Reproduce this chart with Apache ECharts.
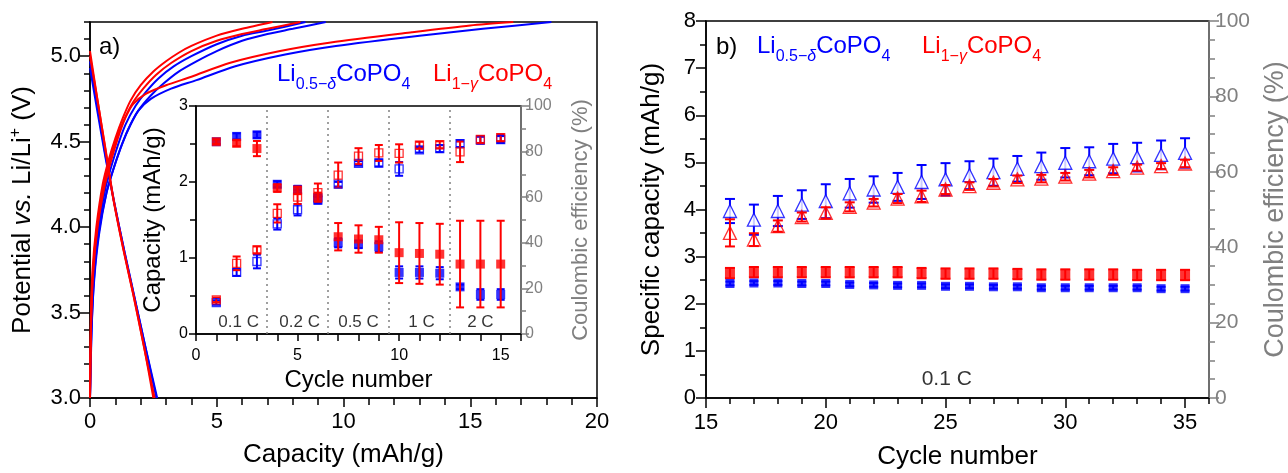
<!DOCTYPE html>
<html><head><meta charset="utf-8">
<script src="https://cdn.jsdelivr.net/npm/echarts@6/dist/echarts.min.js"></script>
<style>html,body{margin:0;padding:0;background:#fff}#c{width:1288px;height:473px}</style>
</head><body><div id="c"></div>
<script>
// ---------- Panel a: voltage profiles [capacity mAh/g, potential V] ----------
const redDischarge1 = [[0,5.03],[0.3,4.74],[0.6,4.46],[0.9,4.18],[1.3,3.88],[1.7,3.61],[2.1,3.32],[2.55,3.0]];
const redDischarge2 = [[0,5.0],[0.32,4.72],[0.62,4.45],[0.92,4.17],[1.32,3.87],[1.72,3.6],[2.12,3.31],[2.5,3.0]];
const blueDischarge1 = [[0,4.97],[0.3,4.7],[0.6,4.43],[0.95,4.15],[1.35,3.86],[1.75,3.59],[2.2,3.29],[2.65,3.0]];
const blueDischarge2 = [[0,4.93],[0.3,4.67],[0.62,4.4],[0.97,4.13],[1.37,3.85],[1.77,3.58],[2.21,3.28],[2.62,3.0]];
const redChargeFast1 = [[0,3.0],[0.03,3.45],[0.1,3.75],[0.25,4.0],[0.5,4.25],[0.75,4.4],[1.0,4.52],[1.3,4.64],[1.6,4.74],[2.0,4.83],[2.5,4.91],[3.0,4.97],[3.5,5.02],[4.0,5.06],[5.0,5.12],[6.0,5.16],[7.2,5.2]];
const redChargeFast2 = [[0,3.0],[0.04,3.45],[0.12,3.75],[0.28,4.0],[0.55,4.25],[0.8,4.4],[1.05,4.52],[1.35,4.63],[1.7,4.73],[2.1,4.81],[2.6,4.89],[3.2,4.96],[4.0,5.03],[5.0,5.09],[6.0,5.13],[7.0,5.16],[8.3,5.2]];
const blueChargeFast1 = [[0,3.0],[0.05,3.4],[0.15,3.72],[0.32,3.98],[0.6,4.22],[0.85,4.36],[1.1,4.48],[1.4,4.6],[1.8,4.71],[2.2,4.79],[2.7,4.87],[3.3,4.94],[4.0,5.0],[5.0,5.07],[6.0,5.12],[7.0,5.15],[8.5,5.2]];
const blueChargeFast2 = [[0,3.0],[0.06,3.4],[0.17,3.7],[0.36,3.96],[0.65,4.2],[0.9,4.33],[1.2,4.46],[1.5,4.57],[1.9,4.68],[2.4,4.77],[2.9,4.84],[3.5,4.91],[4.2,4.97],[5.0,5.03],[6.0,5.09],[7.0,5.13],[8.0,5.16],[9.3,5.2]];
const redChargeSlow = [[0,3.0],[0.04,3.4],[0.12,3.72],[0.3,4.0],[0.55,4.22],[0.8,4.37],[1.1,4.52],[1.4,4.64],[1.7,4.72],[2.2,4.78],[3.0,4.83],[4.0,4.88],[5.5,4.96],[7.5,5.03],[9.5,5.08],[12.7,5.14],[15,5.18],[16.7,5.2]];
const blueChargeSlow = [[0,3.0],[0.06,3.38],[0.16,3.7],[0.35,3.97],[0.65,4.2],[0.95,4.35],[1.25,4.48],[1.6,4.6],[1.9,4.68],[2.4,4.75],[3.2,4.81],[4.2,4.86],[5.7,4.94],[7.7,5.01],[9.7,5.06],[13,5.12],[15.5,5.16],[18.2,5.2]];

// ---------- Inset: rate test (cycles 1-15) ----------
const insetCycles = [1,2,3,4,5,6,7,8,9,10,11,12,13,14,15];
const insetBlueCap = [2.53,2.60,2.62,1.97,1.90,1.79,1.20,1.18,1.15,0.81,0.81,0.80,0.62,0.52,0.52];
const insetBlueCapErr = [0.03,0.04,0.04,0.04,0.05,0.05,0.06,0.05,0.07,0.08,0.08,0.08,0.03,0.07,0.07];
const insetRedCap = [2.53,2.51,2.44,1.92,1.89,1.80,1.28,1.25,1.24,1.07,1.06,1.05,0.92,0.92,0.92];
const insetRedCapErr = [0.03,0.04,0.10,0.05,0.05,0.06,0.18,0.18,0.17,0.40,0.40,0.40,0.57,0.57,0.57];
const insetBlueCE = [13.8,27,31.8,48.3,54.5,58.7,65.7,74.8,75,72.4,80.8,81.3,83.5,85,85.3];
const insetBlueCEErr = [1,1.5,3,2.5,2.5,1.5,1,1,1.5,3,1.2,1.5,1.5,1.5,1.5];
const insetRedCE = [15,31,36.9,52.9,60,62,69.7,78,79.4,79.2,82.8,83,79.9,85.3,86.1];
const insetRedCEErr = [1,3,1.5,4,3,4,5.5,3.5,3.5,4,1.5,1.5,4.5,1.5,1.5];
const rateLabels = ['0.1 C','0.2 C','0.5 C','1 C','2 C'];
const rateLabelCycles = [2.1,5.1,8.0,11.1,14.0];
const rateBoundaries = [3.5,6.5,9.5,12.5];

// ---------- Panel b: cycling at 0.1 C (cycles 16-35) ----------
const cyclesB = [16,17,18,19,20,21,22,23,24,25,26,27,28,29,30,31,32,33,34,35];
const blueCapB = [2.43,2.44,2.44,2.43,2.43,2.41,2.40,2.39,2.39,2.37,2.37,2.36,2.36,2.34,2.34,2.34,2.34,2.34,2.32,2.32];
const blueCapBErr = [0.04,0.04,0.04,0.04,0.04,0.04,0.04,0.04,0.04,0.04,0.04,0.04,0.04,0.04,0.04,0.04,0.04,0.04,0.04,0.04];
const redCapB = [2.65,2.67,2.67,2.67,2.67,2.67,2.67,2.67,2.65,2.64,2.64,2.64,2.63,2.62,2.62,2.62,2.62,2.61,2.61,2.61];
const redCapBErr = [0.11,0.11,0.11,0.11,0.11,0.11,0.11,0.11,0.11,0.11,0.11,0.11,0.11,0.11,0.11,0.11,0.11,0.11,0.11,0.11];
const blueCEB = [49.6,47.3,49.6,51.3,52.2,54.3,55.3,56,57.3,58,59.1,59.9,60.8,61.5,62.4,62.8,63.5,63.9,64.5,65.0];
const blueCEBErr = [3.2,4.0,4.0,3.8,4.5,3.8,3.5,3.7,4.5,4.3,3.7,3.6,3.4,3.6,3.9,3.7,3.9,3.8,3.8,3.9];
const redCEB = [43.8,42,45.6,48,49.1,50.7,51.8,52.9,53.5,55.3,56.2,57.1,58,58.2,58.7,59.5,60.2,61.1,61.5,62.2];
const redCEBErr = [3.6,1.7,1.5,1.2,1.5,1.2,1.0,1.2,1.5,1.2,1.0,1.0,1.0,1.0,1.0,1.0,1.0,0.8,0.8,1.0];

const BLUE = '#0000ff', RED = '#ff0000', GREY = '#808080';
const FF = 'Liberation Sans, Arial, sans-serif';

function zip(xs, ys, es) { return xs.map((x, i) => es ? [x, ys[i], es[i]] : [x, ys[i]]); }

function errRender(capW) {
  return function (params, api) {
    const x = api.value(0), y = api.value(1), e = api.value(2);
    const pt = api.coord([x, y + e]), pb = api.coord([x, y - e]);
    const style = { stroke: api.visual('color'), lineWidth: 2 };
    return { type: 'group', children: [
      { type: 'line', shape: { x1: pt[0], y1: pt[1], x2: pb[0], y2: pb[1] }, style },
      { type: 'line', shape: { x1: pt[0] - capW / 2, y1: pt[1], x2: pt[0] + capW / 2, y2: pt[1] }, style },
      { type: 'line', shape: { x1: pb[0] - capW / 2, y1: pb[1], x2: pb[0] + capW / 2, y2: pb[1] }, style }
    ]};
  };
}
function errSeries(xi, yi, data, color, capW, z) {
  return { type: 'custom', xAxisIndex: xi, yAxisIndex: yi, data, renderItem: errRender(capW),
    encode: { x: 0, y: 1 }, itemStyle: { color }, z: z || 2, silent: true, clip: false };
}
function markSeries(xi, yi, data, color, symbol, size, open, z, fill) {
  return { type: 'scatter', xAxisIndex: xi, yAxisIndex: yi, data: data.map(d => [d[0], d[1]]),
    symbol, symbolSize: size, z: z || 3, silent: true,
    itemStyle: open ? { color: fill || 'rgba(255,255,255,0)', borderColor: color, borderWidth: 1.3 } : { color } };
}
function lineSeries(data, color) {
  return { type: 'line', xAxisIndex: 0, yAxisIndex: 0, data, showSymbol: false, smooth: 0.25,
    lineStyle: { color, width: 2 }, silent: true, z: 2 };
}

const lbl = (size, color) => ({ fontSize: size, fontFamily: FF, color: color || '#000' });
const legendRich = (color) => ({
  m: { fontSize: 24, fontFamily: FF, fill: color, color },
  s: { fontSize: 16, fontFamily: FF, fill: color, color, padding: [21, 0, 0, 0] },
  si: { fontSize: 16, fontFamily: FF, fill: color, color, fontStyle: 'italic', padding: [21, 0, 0, 0] }
});

const option = {
  animation: false,
  backgroundColor: '#fff',
  grid: [
    { left: 90, top: 22, width: 507, height: 376, show: true, borderColor: '#000', borderWidth: 1.5, backgroundColor: '#fff', outerBoundsMode: 'none' },
    { left: 196, top: 106, width: 325, height: 228, show: true, borderColor: '#000', borderWidth: 1.5, backgroundColor: '#fff', outerBoundsMode: 'none' },
    { left: 706, top: 21, width: 503, height: 377, show: true, borderColor: '#000', borderWidth: 1.5, backgroundColor: '#fff', outerBoundsMode: 'none' }
  ],
  xAxis: [
    { gridIndex: 0, type: 'value', min: 0, max: 20, interval: 5, splitLine: { show: false },
      axisLine: { lineStyle: { color: '#000', width: 1.5 } },
      axisTick: { length: 9, lineStyle: { color: '#000', width: 1.5 } },
      minorTick: { show: true, splitNumber: 5, length: 7, lineStyle: { color: '#000', width: 1.5 } },
      axisLabel: Object.assign(lbl(22), { margin: 13 }),
      name: 'Capacity (mAh/g)', nameLocation: 'middle', nameGap: 44, nameTextStyle: lbl(26) },
    { gridIndex: 1, type: 'value', min: 0, max: 16, interval: 5, splitLine: { show: false },
      axisLine: { lineStyle: { color: '#000', width: 1.5 } },
      axisTick: { length: 7, lineStyle: { color: '#000', width: 1.5 } },
      minorTick: { show: true, splitNumber: 5, length: 7, lineStyle: { color: '#000', width: 1.5 } },
      axisLabel: Object.assign(lbl(16), { margin: 14, showMaxLabel: false }),
      name: 'Cycle number', nameLocation: 'middle', nameGap: 34, nameTextStyle: lbl(24) },
    { gridIndex: 2, type: 'value', min: 15, max: 36, interval: 1, splitLine: { show: false },
      axisLine: { lineStyle: { color: '#000', width: 1.5 } },
      axisTick: { length: 6, lineStyle: { color: '#000', width: 1.5 } },
      axisLabel: { show: false } },
    { gridIndex: 2, type: 'value', min: 15, max: 36, interval: 5, splitLine: { show: false }, position: 'bottom',
      axisLine: { show: false },
      axisTick: { length: 10, lineStyle: { color: '#000', width: 1.5 } },
      axisLabel: Object.assign(lbl(22), { margin: 14, showMaxLabel: false }),
      name: 'Cycle number', nameLocation: 'middle', nameGap: 46, nameTextStyle: lbl(26) }
  ],
  yAxis: [
    { gridIndex: 0, type: 'value', min: 3, max: 5.2, interval: 0.1, position: 'left', splitLine: { show: false },
      axisLine: { lineStyle: { color: '#000', width: 1.5 } },
      axisTick: { length: 6, lineStyle: { color: '#000', width: 1.5 } },
      axisLabel: { show: false } },
    { gridIndex: 0, type: 'value', min: 3, max: 5.2, interval: 0.5, position: 'left', splitLine: { show: false },
      axisLine: { show: false },
      axisTick: { length: 10, lineStyle: { color: '#000', width: 1.5 } },
      axisLabel: Object.assign(lbl(22), { margin: 9, showMaxLabel: false, formatter: v => v.toFixed(1) }),
      name: '{n|Potential }{i|vs.}{n| Li/Li}{sup|+}{n| (V)}', nameLocation: 'middle', nameGap: 52,
      nameTextStyle: Object.assign(lbl(26), { rich: {
        n: { fontSize: 26, fontFamily: FF, color: '#000' },
        i: { fontSize: 26, fontFamily: FF, color: '#000', fontStyle: 'italic' },
        sup: { fontSize: 16, fontFamily: FF, color: '#000', padding: [0, 0, 14, 0] } } }) },
    { gridIndex: 1, type: 'value', min: 0, max: 3, interval: 1, position: 'left', splitLine: { show: false },
      axisLine: { lineStyle: { color: '#000', width: 1.5 } },
      axisTick: { length: 7, lineStyle: { color: '#000', width: 1.5 } },
      minorTick: { show: true, splitNumber: 2, length: 6, lineStyle: { color: '#000', width: 1.5 } },
      axisLabel: Object.assign(lbl(16), { margin: 8 }),
      name: 'Capacity (mAh/g)', nameLocation: 'middle', nameGap: 31, nameTextStyle: lbl(24) },
    { gridIndex: 1, type: 'value', min: 0, max: 100, interval: 20, position: 'right', splitLine: { show: false },
      axisLine: { lineStyle: { color: GREY, width: 1.5 } },
      axisTick: { length: 8, lineStyle: { color: GREY, width: 1.5 } },
      minorTick: { show: true, splitNumber: 2, length: 5, lineStyle: { color: GREY, width: 1.5 } },
      axisLabel: Object.assign(lbl(16, GREY), { margin: 4 }),
      name: 'Coulombic efficiency (%)', nameLocation: 'middle', nameGap: 49, nameTextStyle: lbl(22, GREY) },
    { gridIndex: 2, type: 'value', min: 0, max: 8, interval: 1, position: 'left', splitLine: { show: false },
      axisLine: { lineStyle: { color: '#000', width: 1.5 } },
      axisTick: { length: 10, lineStyle: { color: '#000', width: 1.5 } },
      minorTick: { show: true, splitNumber: 2, length: 6, lineStyle: { color: '#000', width: 1.5 } },
      axisLabel: Object.assign(lbl(22), { margin: 10 }),
      name: 'Specific capacity (mAh/g)', nameLocation: 'middle', nameGap: 41, nameTextStyle: lbl(26) },
    { gridIndex: 2, type: 'value', min: 0, max: 100, interval: 20, position: 'right', splitLine: { show: false },
      axisLine: { lineStyle: { color: GREY, width: 1.5 } },
      axisTick: { length: 10, lineStyle: { color: GREY, width: 1.5 } },
      minorTick: { show: true, splitNumber: 4, length: 6, lineStyle: { color: GREY, width: 1.5 } },
      axisLabel: Object.assign(lbl(21, GREY), { margin: 6 }),
      name: 'Coulombic efficiency (%)', nameLocation: 'middle', nameGap: 53, nameTextStyle: lbl(27, GREY) }
  ],
  series: [
    // panel a
    lineSeries(blueDischarge1, BLUE), lineSeries(blueDischarge2, BLUE),
    lineSeries(blueChargeFast1, BLUE), lineSeries(blueChargeFast2, BLUE), lineSeries(blueChargeSlow, BLUE),
    lineSeries(redDischarge1, RED), lineSeries(redDischarge2, RED),
    lineSeries(redChargeFast1, RED), lineSeries(redChargeFast2, RED), lineSeries(redChargeSlow, RED),
    // inset: CE (right axis)
    errSeries(1, 3, zip(insetCycles, insetBlueCE, insetBlueCEErr), BLUE, 8, 4),
    markSeries(1, 3, zip(insetCycles, insetBlueCE), BLUE, 'rect', 8, true, 5),
    errSeries(1, 3, zip(insetCycles, insetRedCE, insetRedCEErr), RED, 8, 4),
    markSeries(1, 3, zip(insetCycles, insetRedCE), RED, 'rect', 8, true, 5),
    // inset: capacity (left axis)
    errSeries(1, 2, zip(insetCycles, insetBlueCap, insetBlueCapErr), BLUE, 8, 4),
    markSeries(1, 2, zip(insetCycles, insetBlueCap), BLUE, 'rect', 9, false, 5),
    errSeries(1, 2, zip(insetCycles, insetRedCap, insetRedCapErr), RED, 8, 6),
    markSeries(1, 2, zip(insetCycles, insetRedCap), RED, 'rect', 9, false, 6),
    // inset rate labels + boundaries
    { type: 'scatter', xAxisIndex: 1, yAxisIndex: 2, symbolSize: 0, silent: true,
      data: rateLabels.map((t, i) => ({ value: [rateLabelCycles[i], 0.16], name: t })),
      label: { show: true, position: 'inside', formatter: '{b}', fontSize: 17, fontFamily: FF, color: '#000' },
      markLine: { silent: true, symbol: 'none', label: { show: false },
        lineStyle: { type: [2, 4], color: GREY, width: 1.5 },
        data: rateBoundaries.map(v => ({ xAxis: v })) } },
    // panel b: capacity
    errSeries(3, 4, zip(cyclesB, blueCapB, blueCapBErr), BLUE, 9, 4),
    markSeries(3, 4, zip(cyclesB, blueCapB), BLUE, 'rect', 9, false, 5),
    errSeries(3, 4, zip(cyclesB, redCapB, redCapBErr), RED, 10, 4),
    markSeries(3, 4, zip(cyclesB, redCapB), RED, 'rect', 10, false, 5),
    // panel b: CE
    errSeries(3, 5, zip(cyclesB, blueCEB, blueCEBErr), BLUE, 10, 4),
    markSeries(3, 5, zip(cyclesB, blueCEB), BLUE, 'triangle', 13, true, 5, '#fff'),
    errSeries(3, 5, zip(cyclesB, redCEB, redCEBErr), RED, 10, 6),
    markSeries(3, 5, zip(cyclesB, redCEB), RED, 'triangle', 13, true, 7),
    { type: 'scatter', xAxisIndex: 3, yAxisIndex: 4, symbolSize: 0, silent: true,
      data: [{ value: [25.05, 0.4], name: '0.1 C' }],
      label: { show: true, position: 'inside', formatter: '{b}', fontSize: 21, fontFamily: FF, color: '#000' } }
  ],
  graphic: [
    { type: 'text', left: 99, top: 35, style: { text: 'a)', font: '24px ' + FF, fill: '#000' } },
    { type: 'text', left: 716, top: 35, style: { text: 'b)', font: '24px ' + FF, fill: '#000' } },
    { type: 'text', left: 277, top: 62, style: { text: '{m|Li}{s|0.5−}{si|δ}{m|CoPO}{s|4}', fill: BLUE, rich: legendRich(BLUE) } },
    { type: 'text', left: 433, top: 62, style: { text: '{m|Li}{s|1−}{si|γ}{m|CoPO}{s|4}', fill: RED, rich: legendRich(RED) } },
    { type: 'text', left: 757, top: 34, style: { text: '{m|Li}{s|0.5−}{si|δ}{m|CoPO}{s|4}', fill: BLUE, rich: legendRich(BLUE) } },
    { type: 'text', left: 922, top: 34, style: { text: '{m|Li}{s|1−}{si|γ}{m|CoPO}{s|4}', fill: RED, rich: legendRich(RED) } }
  ]
};
const chart = echarts.init(document.getElementById('c'), null, { renderer: 'canvas' });
chart.setOption(option);
</script></body></html>
